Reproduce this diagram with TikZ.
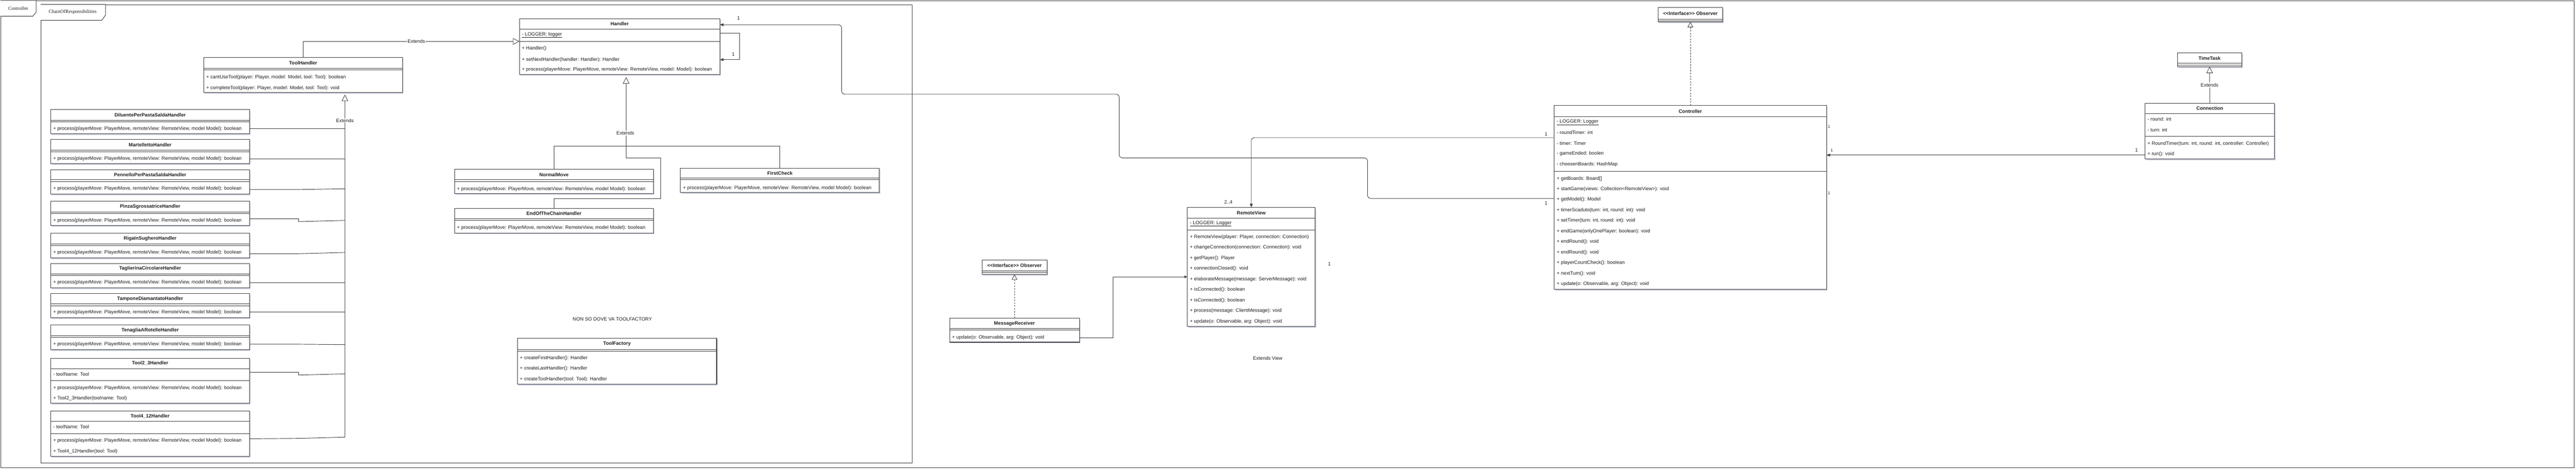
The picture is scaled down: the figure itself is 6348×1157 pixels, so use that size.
\documentclass[tikz,border=0pt]{standalone}
\usepackage{fontspec}
\setmainfont{Liberation Sans}
\newfontfamily\pkfont{Liberation Serif}
\usetikzlibrary{arrows.meta,shadows}
\definecolor{ln}{HTML}{3F3F3F}
\definecolor{tx}{HTML}{1E1E1E}
\definecolor{shd}{HTML}{A9B0CA}
\newcount\mc
\newcommand\fs{\fontsize{12}{14}\selectfont}
\newcommand\cbox[5]{\pgfmathsetmacro\bxl{#2}\pgfmathsetmacro\bxc{#2+#4/2}\def\bxn{#1}%
  \node[cls,minimum width=#4pt,minimum height=#5pt] (#1) at (#2,#3) {};}
\newcommand\csep[1]{\draw[sepl] (\bxn.west |- 0,#1) -- (\bxn.east |- 0,#1);}
\newcommand\ctitle[2]{\node[ttl] (\bxn-t) at (\bxc,#1) {#2};}
\newcommand\cmem[2]{\global\advance\mc by 1\relax\edef\mname{m\the\mc}\node[mem] (\mname) at (\bxl+6,#1) {#2};}
\newcommand\proc{+ process(playerMove: PlayerMove, remoteView: RemoteView, model Model): boolean}
\tikzset{
  cls/.style={draw=ln, line width=1.3pt, fill=white, inner sep=0pt, outer sep=0pt, anchor=north west,
    drop shadow={shadow xshift=2.5pt, shadow yshift=-3pt, fill=shd, opacity=0.6}},
  sepl/.style={draw=ln, line width=1.2pt},
  ttl/.style={font=\fs\bfseries, text=tx, inner sep=0pt, anchor=center},
  mem/.style={font=\fs, text=tx, inner sep=0pt, anchor=west},
  wire/.style={draw=ln, line width=1.2pt},
  gen/.style={wire, -{Triangle[open, length=16pt, width=16pt, line width=1.1pt]}},
  real/.style={wire, dash pattern=on 4pt off 3pt, -{Triangle[open, length=13pt, width=14pt, line width=1.1pt]}},
  assoc/.style={wire, -{Triangle[length=9pt, width=7pt]}},
  lbl/.style={font=\fs, text=tx, fill=white, inner sep=1pt},
  num/.style={font=\fs, text=tx, inner sep=0.5pt},
  pkg/.style={draw=ln, line width=1.3pt},
}
\begin{document}
\begin{tikzpicture}[x=1pt,y=-1pt]
\useasboundingbox (0,0) rectangle (6348,1157);
\fill[white] (0,0) rectangle (6348,1157);
% packages
\node[pkg, anchor=north west, inner sep=0pt, minimum width=6342pt, minimum height=1150pt] (outer) at (1,1) {};
\draw[pkg, fill=white] (1,1) -- (89,1) -- (89,30) -- (81,40) -- (1,40);
\node[font=\pkfont\fs, text=tx] (tabc) at (45,21) {Controller};
\node[pkg, anchor=north west, inner sep=0pt, minimum width=2147pt, minimum height=1129pt] (chain) at (100,11) {};
\draw[pkg, fill=white] (100,11) -- (260,11) -- (260,37) -- (251,50) -- (100,50);
\node[font=\pkfont\fs, text=tx] (tabp) at (179,30) {ChainOfResponsibilities};

% ToolHandler
\cbox{toolh}{502}{142}{490}{86}
\ctitle{155}{ToolHandler}
\csep{168}\csep{172}
\cmem{190}{+ cantUseTool(player: Player, model: Model, tool: Tool): boolean}
\cmem{217}{+ completeTool(player: Player, model: Model, tool: Tool): void}

% Handler
\cbox{handler}{1280}{46}{494}{138}
\ctitle{59}{Handler}
\csep{72}
\cmem{86}{\underline{- LOGGER: logger}}
\csep{102}
\cmem{120}{+ Handler()}
\cmem{147}{+ setNextHandler(handler: Handler): Handler}
\cmem{172}{+ process(playerMove: PlayerMove, remoteView: RemoteView, model: Model): boolean}

% left handlers
\cbox{dil}{125}{270}{490}{60}\ctitle{283}{DiluentePerPastaSaldaHandler}\csep{296}\csep{300}\cmem{317}{\proc}
\cbox{mar}{125}{344}{490}{59}\ctitle{357}{MartellettoHandler}\csep{370}\csep{374}\cmem{391}{\proc}
\cbox{pen}{125}{418}{490}{60}\ctitle{430}{PennelloPerPastaSaldaHandler}\csep{443}\csep{447}\cmem{465}{\proc}
\cbox{pin}{125}{496}{490}{60}\ctitle{509}{PinzaSgrossatriceHandler}\csep{522}\csep{526}\cmem{543}{\proc}
\cbox{rig}{125}{575}{490}{60}\ctitle{588}{RigaInSugheroHandler}\csep{601}\csep{605}\cmem{622}{\proc}
\cbox{tag}{125}{649}{490}{60}\ctitle{662}{TaglierinaCircolareHandler}\csep{675}\csep{679}\cmem{696}{\proc}
\cbox{tam}{125}{723}{490}{60}\ctitle{736}{TamponeDiamantatoHandler}\csep{749}\csep{753}\cmem{770}{\proc}
\cbox{ten}{125}{801}{490}{60}\ctitle{814}{TenagliaARotelleHandler}\csep{827}\csep{831}\cmem{848}{\proc}
\cbox{tta}{125}{883}{490}{111}\ctitle{895}{Tool2\_3Handler}\csep{908}
\cmem{922}{- toolName: Tool}\csep{938}
\cmem{956}{\proc}\cmem{982}{+ Tool2\_3Handler(toolname: Tool)}
\cbox{ttb}{125}{1012}{490}{112}\ctitle{1025}{Tool4\_12Handler}\csep{1038}
\cmem{1052}{- toolName: Tool}\csep{1068}
\cmem{1086}{\proc}\cmem{1112}{+ Tool4\_12Handler(tool: Tool)}

% chain classes
\cbox{nm}{1120}{417}{490}{60}\ctitle{430}{NormalMove}\csep{443}\csep{447}\cmem{466}{\proc}
\cbox{fc}{1677}{414}{490}{60}\ctitle{427}{FirstCheck}\csep{439}\csep{443}\cmem{463}{\proc}
\cbox{ec}{1120}{513}{490}{61}\ctitle{526}{EndOfTheChainHandler}\csep{539}\csep{543}\cmem{561}{\proc}
\cbox{tf}{1275}{834}{491}{113}\ctitle{847}{ToolFactory}\csep{861}\csep{865}
\cmem{882}{+ createFirstHandler(): Handler}
\cmem{908}{+ createLastHandler(): Handler}
\cmem{934}{+ createToolHandler(tool: Tool): Handler}
\node[font=\fs, text=tx] (note) at (1509,786) {NON SO DOVE VA TOOLFACTORY};

% observer / message receiver
\cbox{obsl}{2420}{641}{160}{35}\ctitle{654}{<\kern0pt<Interface>\kern0pt> Observer}\csep{667}\csep{671}
\cbox{mr}{2340}{784}{320}{59}\ctitle{797}{MessageReceiver}\csep{809}\csep{813}
\cmem{832}{+ update(o: Observable, arg: Object): void}

% RemoteView
\cbox{rv}{2926}{511}{315}{293}\ctitle{524}{RemoteView}\csep{537}
\cmem{551}{\underline{- LOGGER: Logger}}\csep{567}
\cmem{584}{+ RemoteView(player: Player, connection: Connection)}
\cmem{610}{+ changeConnection(connection: Connection): void}
\cmem{636}{+ getPlayer(): Player}
\cmem{662}{+ connectionClosed(): void}
\cmem{688}{+ elaborateMessage(message: ServerMessage): void}
\cmem{714}{+ isConnected(): boolean}
\cmem{740}{+ isConnected(): boolean}
\cmem{766}{+ process(message: ClientMessage): void}
\cmem{792}{+ update(o: Observable, arg: Object): void}

% Controller
\cbox{ctrl}{3830}{260}{671}{453}\ctitle{274}{Controller}\csep{287}
\cmem{301}{\underline{- LOGGER: Logger}}
\cmem{327}{- roundTimer: int}
\cmem{353}{- timer: Timer}
\cmem{379}{- gameEnded: boolen}
\cmem{405}{- choosenBoards: HashMap}
\csep{422}
\cmem{440}{+ getBoards: Board[]}
\cmem{466}{+ startGame(views: Collection<RemoteView>): void}
\cmem{492}{+ getModel(): Model}
\cmem{518}{+ timerScaduto(turn: int, round: int): void}
\cmem{544}{+ setTimer(turn: int, round: int): void}
\cmem{570}{+ endGame(onlyOnePlayer: boolean): void}
\cmem{596}{+ endRound(): void}
\cmem{622}{+ endRound(): void}
\cmem{648}{+ playerCountCheck(): boolean}
\cmem{674}{+ nextTurn(): void}
\cmem{700}{+ update(o: Observable, arg: Object): void}

% right side
\cbox{obsr}{4086}{19}{159}{35}\ctitle{33}{<\kern0pt<Interface>\kern0pt> Observer}\csep{47}\csep{51}
\cbox{tt}{5366}{130}{158}{34}\ctitle{143}{TimeTask}\csep{156}\csep{160}
\cbox{conn}{5286}{254}{319}{138}\ctitle{267}{Connection}\csep{280}
\cmem{294}{- round: int}
\cmem{320}{- turn: int}\csep{336}
\cmem{354}{+ RoundTimer(turn: int, round: int, controller: Controller)}
\cmem{380}{+ run(): void}

% ---------- connectors ----------
% ToolHandler -> Handler
\draw[gen] (toolh.north) |- (handler.west |- 0,102);
\node[lbl] (ex1) at (1026,102) {Extends};
% Handler self association
\draw[assoc] (handler.east |- 0,82) -- (1822,82) -- (1822,147) -- (handler.east |- 0,147);
\node[num] (n1) at (1807,133) {1};
% Controller -> Handler
\draw[assoc, rounded corners=8pt] (ctrl.west |- 0,489) -- (3370,489) -- (3370,389) -- (2758,389) -- (2758,232) -- (2074,232) -- (2074,61) -- (handler.east |- 0,61);
\node[num] (n2) at (1820,45) {1};
\node[num] (n3) at (3810,501) {1};
% Controller -> RemoteView
\draw[assoc, rounded corners=8pt] (ctrl.west |- 0,339) -| (rv.north);
\node[num] (n4) at (3810,331) {1};
\node[num] (n5) at (3027,498) {2..4};
% MessageReceiver -> RemoteView
\draw[wire, -{Triangle[length=7pt, width=6pt]}] (mr.east |- 0,832) -- (2743,832) -- (2743,682) -- (rv.west |- 0,682);
\node[num] (n6) at (3276,650) {1};
% realizations
\draw[real] (mr.north) -- (obsl.south);
\draw[real] (ctrl.north) -- (obsr.south);
% Connection -> TimeTask
\draw[gen] (conn.north) -- (tt.south);
\node[lbl] (ex4) at (5445,210) {Extends};
% Connection -> Controller
\draw[assoc] (conn.west |- 0,382) -- (ctrl.east |- 0,382);
\node[num] (n7) at (5265,370) {1};
\node[num, font=\fontsize{10}{12}\selectfont] (n8) at (4514,370) {1};
\node[num, font=\fontsize{10}{12}\selectfont, fill=white] (n9) at (4507,312) {1};
\node[num, font=\fontsize{10}{12}\selectfont, fill=white] (n10) at (4507,476) {1};
\node[font=\fs, text=tx] (extv) at (3124,883) {Extends View};

% chain children -> Handler
\coordinate (jh) at (1543,360);
\coordinate (hbot) at (1543,190);
\draw[wire] (nm.north) |- (jh);
\draw[wire] (fc.north) |- (jh);
\draw[wire] (ec.north) -- (1365,489) -- (1628,489) -- (1628,389) -- (1543,389) -- (jh);
\draw[gen] (jh) -- (hbot);
\node[lbl] (ex3) at (1541,328) {Extends};

% tool handlers -> ToolHandler
\coordinate (tj) at (850,1077);
\coordinate (tbot) at (850,233);
\draw[gen] (tj) -- (tbot);
\node[lbl] (ex2) at (850,297) {Extends};
\draw[wire] (dil.east |- 0,317) -- (850,317);
\draw[wire] (mar.east |- 0,391) -- (850,391);
\draw[wire] (pen.east |- 0,467) -- (736,467) -- (850,465);
\draw[wire] (pin.east |- 0,539) -- (736,539) -- (736,546) -- (850,543);
\draw[wire] (rig.east |- 0,625) -- (736,625) -- (850,622);
\draw[wire] (tag.east |- 0,696) -- (850,696);
\draw[wire] (tam.east |- 0,769) -- (850,769);
\draw[wire] (ten.east |- 0,848) -- (736,848) -- (850,849);
\draw[wire] (tta.east |- 0,917) -- (736,917) -- (736,924) -- (850,921);
\draw[wire] (ttb.east |- 0,1081) -- (736,1080) -- (tj);
\end{tikzpicture}
\end{document}
